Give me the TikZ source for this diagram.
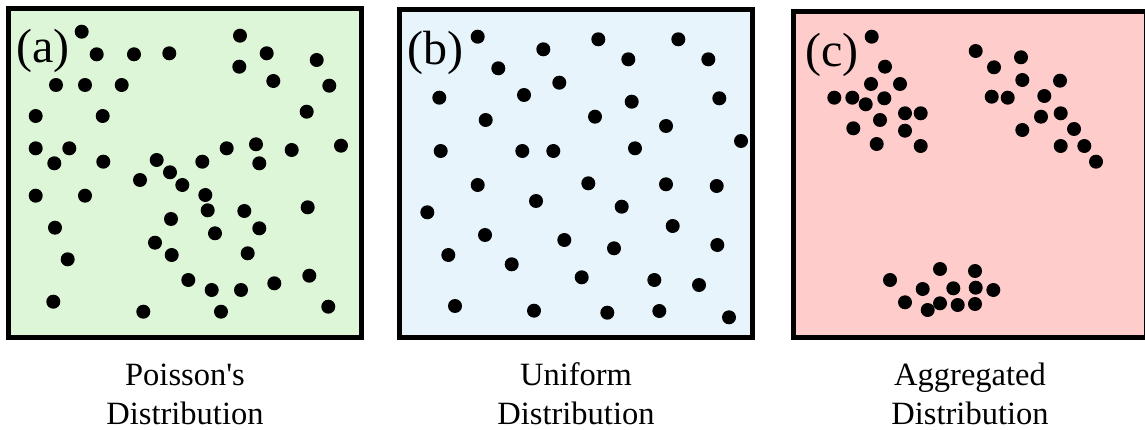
\documentclass[tikz,border=0pt]{standalone}
\usepackage{fontspec}
\setmainfont{Liberation Serif}
\usepackage{tikz}
\usetikzlibrary{positioning}

\definecolor{poissongreen}{RGB}{221,246,216}
\definecolor{uniformblue}{RGB}{232,244,252}
\definecolor{aggregpink}{RGB}{255,204,204}

\begin{document}
\begin{tikzpicture}[x=1pt, y=-1pt,
    panel/.style={draw=black, line width=5pt, inner sep=0pt},
    tag/.style={anchor=base west, inner sep=0pt, font=\fontsize{48}{48}\selectfont},
    caption/.style={anchor=base, inner sep=0pt, align=center, font=\fontsize{32.5}{39}\selectfont}]
    \useasboundingbox (0,0) rectangle (1145,430);

    % the three panels
    \node[panel, fill=poissongreen, minimum width=353pt, minimum height=329pt] (boxA) at (185,173) {};
    \node[panel, fill=uniformblue, minimum width=353pt, minimum height=327.5pt] (boxB) at (576,173.75) {};
    \node[panel, fill=aggregpink, minimum width=352.5pt, minimum height=325.5pt] (boxC) at (969.75,174.75) {};

    \node[tag] (tagA) at (16,63) {(a)};
    \node[tag] (tagB) at (407,65) {(b)};
    \node[tag] (tagC) at (805,67) {(c)};

    % (a) random points
    \foreach \px/\py in {81.7/31.7, 96.7/54.3, 134/54.3, 169.3/53.3, 240/35.7, 239.3/66.7,
      266.7/53.3, 316.7/60, 273.3/81, 329.3/85.7, 56/85, 85/85, 121.7/85, 35.7/116,
      102.7/116, 306.7/111.7, 35.7/148.3, 69.3/148.3, 54.3/163.3, 103.3/161.7, 156.7/160,
      170/172.3, 202.3/161.7, 226.7/148.3, 256/144.3, 259.3/163.3, 291.7/150, 341/145.7,
      140/180, 182.3/185, 205.3/195, 35.7/195.7, 85/195.7, 207.7/210.3, 244.3/211,
      307.7/207.3, 55/227.7, 171/219, 259.3/228.3, 215/233.3, 67.7/259.3, 155/242.7,
      171.7/255, 247.7/253.3, 188.3/280, 211.7/290, 241/290, 274.3/283.3, 309.3/275.7,
      53.3/301.7, 143.3/311.7, 221/311.7, 328.3/306.7}
      \fill (\px,\py) circle (7pt);

    % (b) even points
    \foreach \px/\py in {477.7/36.7, 543.3/49.3, 598.3/39.3, 678.3/39.3, 628.3/59.3,
      708.3/59.3, 498.3/68.3, 559.3/82.7, 439.3/97.7, 524/95, 631.7/101.7, 719.3/98.3,
      485.7/120, 595/116.7, 666/126, 741/141, 440.7/151, 522.3/151, 553.3/151, 635/148.3,
      477.7/185, 588.3/183.3, 666/184.3, 716.7/186, 536/201, 427.3/212.3, 621.7/206.7,
      672.7/226, 485/235, 564.3/240, 614/248.3, 717.3/245, 448.3/255, 511.7/264.3,
      581.7/277.3, 654.3/280, 699/285, 455/306, 534/310.7, 607.3/312.7, 659.3/311,
      729/317.3}
      \fill (\px,\py) circle (7pt);

    % (c) clustered points
    \foreach \px/\py in {871.7/36.7, 885/66.7, 871/84, 900/84, 834.3/97.7, 852.3/97.7,
      865.7/104.3, 884.3/98.3, 880/120, 905/113.3, 920.7/113.3, 853.3/128.3, 905/130.7,
      876.7/144, 920.7/146,
      975.7/51, 994/67.3, 1021/57.3, 1022.3/80, 1060/80.7, 991.7/96.7, 1007.7/97.7,
      1044.3/96, 1041/116.7, 1060.7/113.3, 1022.3/130, 1074/129, 1060.7/146, 1084.3/146,
      1096/161.7,
      940/269, 975/271, 890/280, 922.7/289, 953.3/288.3, 975.7/287.7, 993.3/290,
      905/302.3, 940/303.3, 957.7/305, 975/304, 927.7/310}
      \fill (\px,\py) circle (7pt);

    \node[caption] (capA) at (185,424) {Poisson\textquotesingle s\\Distribution};
    \node[caption] (capB) at (576,424) {Uniform\\Distribution};
    \node[caption] (capC) at (970,424) {Aggregated\\Distribution};
\end{tikzpicture}
\end{document}
